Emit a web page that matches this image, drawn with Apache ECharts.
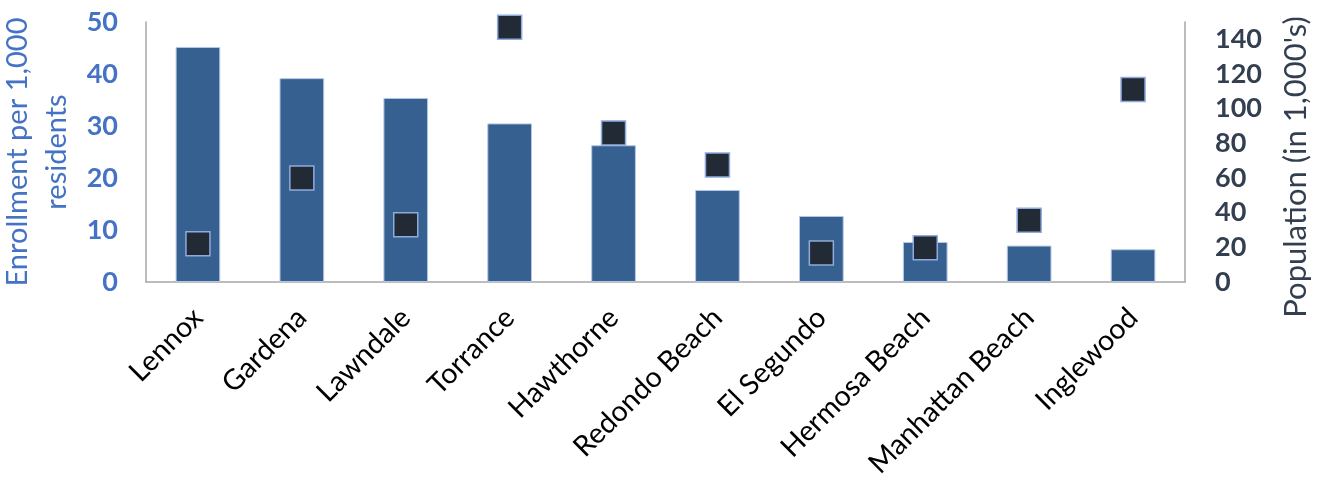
<!DOCTYPE html>
<html>
<head>
<meta charset="utf-8">
<script src="https://cdn.jsdelivr.net/npm/echarts@6/dist/echarts.min.js"></script>
<style>html,body{margin:0;padding:0;background:#fff}#c{width:1324px;height:486px}</style>
</head>
<body>
<div id="c"></div>
<script>
const categories = ['Lennox','Gardena','Lawndale','Torrance','Hawthorne','Redondo Beach','El Segundo','Hermosa Beach','Manhattan Beach','Inglewood'];
const enrollment = [45.2, 39.2, 35.4, 30.5, 26.3, 17.7, 12.7, 7.7, 7.0, 6.3];
const population = [22, 60, 33, 147, 86, 67.5, 16.7, 19.7, 35.6, 111];
const leftTicks = [0, 10, 20, 30, 40, 50];
const rightTicks = [0, 20, 40, 60, 80, 100, 120, 140];

const FONT = 'Lato, "Open Sans", sans-serif';
const chart = echarts.init(document.getElementById('c'));
chart.setOption({
  animation: false,
  backgroundColor: '#fff',
  grid: {left: 146, right: 139, top: 22, bottom: 204, containLabel: false, outerBoundsMode: 'none'},
  xAxis: {
    type: 'category',
    data: categories,
    axisLine: {lineStyle: {color: '#a6a6a6', width: 1.5}},
    axisTick: {show: false},
    axisLabel: {rotate: 45, interval: 0, color: '#000', fontSize: 28.5, fontFamily: FONT, margin: 31}
  },
  yAxis: [
    {
      type: 'value', min: leftTicks[0], max: leftTicks[leftTicks.length - 1], interval: 10,
      name: 'Enrollment per 1,000\nresidents', nameLocation: 'middle', nameGap: 65,
      nameTextStyle: {color: '#4472C4', fontSize: 29, fontFamily: FONT, lineHeight: 39},
      axisLine: {show: true, lineStyle: {color: '#a6a6a6', width: 1.5}},
      axisTick: {show: false},
      splitLine: {show: false},
      axisLabel: {color: '#4472C4', fontSize: 27, fontWeight: 'bold', fontFamily: FONT, margin: 28}
    },
    {
      type: 'value', min: 0, max: 150, interval: 20,
      name: "Population (in 1,000's)", nameLocation: 'middle', nameGap: 95,
      nameTextStyle: {color: '#333F50', fontSize: 31, fontFamily: FONT, padding: [0, 30, 0, 0]},
      position: 'right',
      axisLine: {show: true, lineStyle: {color: '#a6a6a6', width: 1.5}},
      axisTick: {show: false},
      splitLine: {show: false},
      axisLabel: {color: '#333F50', fontSize: 27, fontWeight: 'bold', fontFamily: FONT, margin: 30, showMaxLabel: false,
        formatter: v => rightTicks.includes(v) ? String(v) : ''}
    }
  ],
  series: [
    {
      type: 'bar', data: enrollment, yAxisIndex: 0, barWidth: '43%',
      itemStyle: {color: '#36608F', borderColor: '#b4c7e7', borderWidth: 1}
    },
    {
      type: 'scatter', data: population, yAxisIndex: 1, symbol: 'rect', symbolSize: 24,
      itemStyle: {color: '#222A35', borderColor: '#8FAADC', borderWidth: 1.5, opacity: 1}
    }
  ]
});
</script>
</body>
</html>
